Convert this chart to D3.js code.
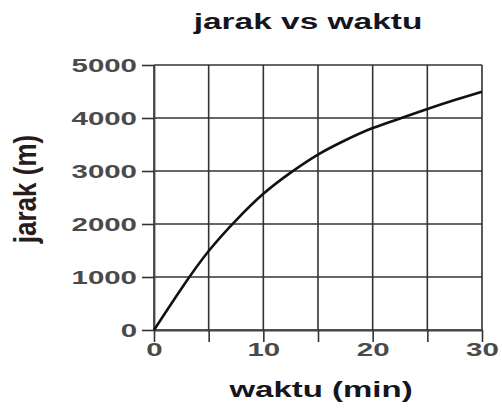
<!DOCTYPE html>
<html>
<head>
<meta charset="utf-8">
<script src="https://cdn.jsdelivr.net/npm/d3@7"></script>
<style>
  body { margin: 0; background: #fff; }
  text { font-family: "Liberation Sans", Arial, sans-serif; font-weight: bold; }
</style>
</head>
<body>
<div id="chart"></div>
<script>
// values
const minutes  = [0, 2.5, 5, 7.5, 10, 12.5, 15, 17.5, 20, 22.5, 25, 27.5, 30];
const distance = [0, 780, 1490, 2070, 2570, 2970, 3310, 3580, 3810, 3990, 4170, 4340, 4497];
const xTicks = [0, 5, 10, 15, 20, 25, 30];
const yTicks = [0, 1000, 2000, 3000, 4000, 5000];

const width = 502, height = 409;
const stretch = 1.55; // the picture's text is wide

const svg = d3.select("#chart").append("svg")
    .attr("width", width)
    .attr("height", height);

const x = d3.scaleLinear().domain([0, 30]).range([154, 482]);
const y = d3.scaleLinear().domain([0, 5000]).range([330, 65]);

// grid
svg.append("g").selectAll("line")
    .data(xTicks)
    .enter().append("line")
    .attr("x1", d => x(d)).attr("x2", d => x(d))
    .attr("y1", y(5000)).attr("y2", y(0))
    .attr("stroke", "#333").attr("stroke-width", 1.6);

svg.append("g").selectAll("line")
    .data(yTicks)
    .enter().append("line")
    .attr("x1", x(0)).attr("x2", x(30))
    .attr("y1", d => y(d)).attr("y2", d => y(d))
    .attr("stroke", "#333").attr("stroke-width", 1.6);

// axes
const xAxis = svg.append("g")
    .attr("transform", "translate(0," + y(0) + ")")
    .call(d3.axisBottom(x).tickValues(xTicks).tickSize(12).tickSizeOuter(0)
        .tickFormat(d => d % 10 === 0 ? d : ""));

const yAxis = svg.append("g")
    .attr("transform", "translate(" + x(0) + ",0)")
    .call(d3.axisLeft(y).tickValues(yTicks).tickSize(12).tickSizeOuter(0)
        .tickFormat(d3.format("d")));

[xAxis, yAxis].forEach(g => {
    g.select(".domain").attr("stroke", "#444").attr("stroke-width", 1.8);
    g.selectAll(".tick line").attr("stroke", "#333").attr("stroke-width", 1.6);
    g.selectAll(".tick text")
        .attr("fill", "#4a4a4a")
        .style("font-size", "19px");
});

xAxis.selectAll(".tick text")
    .attr("y", 13)
    .attr("transform", "scale(" + stretch + ",1)");

yAxis.selectAll(".tick text")
    .attr("x", -17 / stretch)
    .attr("transform", "scale(" + stretch + ",1)");

// curve
const line = d3.line()
    .x((d, i) => x(minutes[i]))
    .y(d => y(d))
    .curve(d3.curveNatural);

svg.append("path")
    .datum(distance)
    .attr("d", line)
    .attr("fill", "none")
    .attr("stroke", "#111")
    .attr("stroke-width", 2.6);

// titles
svg.append("text")
    .attr("transform", "translate(308,29) scale(1.52,1)")
    .attr("text-anchor", "middle")
    .attr("fill", "#151520")
    .style("font-size", "22px")
    .text("jarak vs waktu");

svg.append("text")
    .attr("transform", "translate(321,397) scale(1.5,1)")
    .attr("text-anchor", "middle")
    .attr("fill", "#151520")
    .style("font-size", "22px")
    .text("waktu (min)");

svg.append("text")
    .attr("transform", "translate(36,189) scale(1.2,1) rotate(-90)")
    .attr("text-anchor", "middle")
    .attr("fill", "#2a1a1a")
    .style("font-size", "26px")
    .text("jarak (m)");
</script>
</body>
</html>
